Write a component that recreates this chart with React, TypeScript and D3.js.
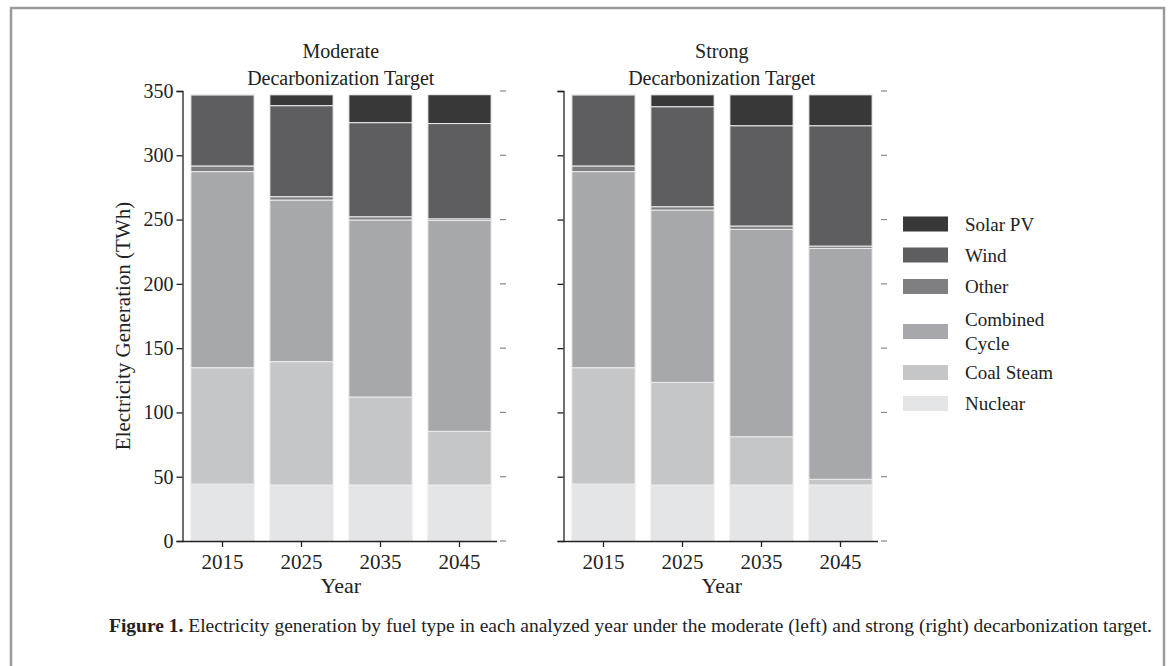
import React, { useEffect, useRef } from "react";
import * as d3 from "d3";

// Categories and series (TWh)
const years = ["2015", "2025", "2035", "2045"];
const fuels = ["Nuclear", "Coal Steam", "Combined Cycle", "Other", "Wind", "Solar PV"];
const fuelColors = ["#e4e5e7", "#c5c6c8", "#a7a8ab", "#7f7f82", "#5e5e60", "#383838"];

const nuclearModerate = [44.3, 43.6, 43.6, 43.6];
const coalModerate = [90.5, 95.9, 68.4, 41.7];
const combinedModerate = [152.5, 125.7, 137.7, 164.0];
const otherModerate = [4.4, 2.6, 2.5, 1.3];
const windModerate = [55.3, 70.8, 73.2, 74.1];
const solarModerate = [0.4, 8.4, 21.6, 22.4];

const nuclearStrong = [44.3, 43.6, 43.6, 43.6];
const coalStrong = [90.5, 79.8, 37.5, 4.4];
const combinedStrong = [152.5, 134.0, 161.3, 179.6];
const otherStrong = [4.4, 2.6, 2.6, 1.8];
const windStrong = [55.3, 77.8, 78.0, 93.6];
const solarStrong = [0.4, 9.2, 24.0, 24.0];

const yTicks = [0, 50, 100, 150, 200, 250, 300, 350];
const panelTitles = [["Moderate", "Decarbonization Target"], ["Strong", "Decarbonization Target"]];

const FONT = "'Liberation Serif', 'Times New Roman', serif";

function buildRows(series: number[][]) {
  return years.map((year, i) => {
    const row: Record<string, any> = { year };
    fuels.forEach((f, k) => (row[f] = series[k][i]));
    return row;
  });
}

export default function App() {
  const ref = useRef<SVGSVGElement | null>(null);

  useEffect(() => {
    const svg = d3.select(ref.current);
    svg.selectAll("*").remove();

    // frame
    svg.append("rect")
      .attr("x", 11).attr("y", 8).attr("width", 1153).attr("height", 720)
      .attr("fill", "none").attr("stroke", "#9a9a9c").attr("stroke-width", 2.5);

    const y = d3.scaleLinear().domain([0, 350]).range([541, 91]);

    const panels = [
      { x0: 182.5, x1: 499, series: [nuclearModerate, coalModerate, combinedModerate, otherModerate, windModerate, solarModerate], labels: true },
      { x0: 563.5, x1: 880, series: [nuclearStrong, coalStrong, combinedStrong, otherStrong, windStrong, solarStrong], labels: false },
    ];

    const stack = d3.stack<any>().keys(fuels);

    panels.forEach((p, pi) => {
      const g = svg.append("g");
      const x = d3.scaleBand().domain(years).range([p.x0 + 0.5, p.x1]).paddingInner(0.2).paddingOuter(0.1);
      const layers = stack(buildRows(p.series));

      layers.forEach((layer, k) => {
        g.append("g")
          .selectAll("rect")
          .data(layer)
          .join("rect")
          .attr("x", (d: any) => x(d.data.year)!)
          .attr("width", x.bandwidth())
          .attr("y", (d: any) => y(d[1]))
          .attr("height", (d: any) => Math.max(0, y(d[0]) - y(d[1])))
          .attr("fill", fuelColors[k])
          .attr("stroke", "#ececee")
          .attr("stroke-width", 1);
      });

      // left axis
      const yAxis = g.append("g")
        .attr("transform", `translate(${p.x0},0)`)
        .call(d3.axisLeft(y).tickValues(yTicks).tickSize(6).tickSizeOuter(6).tickPadding(3).tickFormat(p.labels ? (d3.format("d") as any) : () => ""));
      yAxis.select(".domain").attr("stroke", "#222").attr("stroke-width", 1.3);
      yAxis.selectAll(".tick line").attr("stroke", "#222").attr("stroke-width", 1.3);
      yAxis.selectAll("text").attr("font-family", FONT).attr("font-size", 20).attr("fill", "#222");

      // right-hand tick marks
      g.append("g")
        .selectAll("line")
        .data(yTicks)
        .join("line")
        .attr("x1", p.x1 + 1).attr("x2", p.x1 + 7)
        .attr("y1", (d) => y(d)).attr("y2", (d) => y(d))
        .attr("stroke", "#888").attr("stroke-width", 1.2);

      // bottom axis
      const xAxis = g.append("g")
        .attr("transform", `translate(0,${y(0)})`)
        .call(d3.axisBottom(x).tickSize(6).tickSizeOuter(0).tickPadding(4));
      xAxis.select(".domain").attr("stroke", "#222").attr("stroke-width", 1.3)
        .attr("d", `M${p.x0},0.5H${p.x1 - 2}`);
      xAxis.selectAll(".tick line").attr("stroke", "#222").attr("stroke-width", 1.3);
      xAxis.selectAll("text").attr("font-family", FONT).attr("font-size", 21).attr("fill", "#222").attr("dy", "0.85em");

      const cx = (p.x0 + p.x1) / 2;
      g.append("text").attr("x", cx).attr("y", 593).attr("text-anchor", "middle")
        .attr("font-family", FONT).attr("font-size", 22).attr("fill", "#222").text("Year");

      panelTitles[pi].forEach((t, li) => {
        g.append("text").attr("x", cx).attr("y", 58 + li * 27).attr("text-anchor", "middle")
          .attr("font-family", FONT).attr("font-size", 20).attr("fill", "#222").text(t);
      });
    });

    // y axis title
    svg.append("text")
      .attr("transform", `translate(130,326) rotate(-90)`)
      .attr("text-anchor", "middle")
      .attr("font-family", FONT).attr("font-size", 21).attr("fill", "#222")
      .text("Electricity Generation (TWh)");

    // legend (top to bottom: Solar PV ... Nuclear)
    const legendItems = fuels.map((f, k) => ({ f, c: fuelColors[k] })).reverse();
    const legendY = [224, 255, 286.5, 331.5, 372.5, 403.5];
    const lg = svg.append("g");
    legendItems.forEach((it, i) => {
      lg.append("rect").attr("x", 903).attr("y", legendY[i] - 7.5).attr("width", 45).attr("height", 15).attr("fill", it.c);
      const lines = it.f === "Combined Cycle" ? ["Combined", "Cycle"] : [it.f];
      lines.forEach((ln, j) => {
        lg.append("text")
          .attr("x", 965)
          .attr("y", legendY[i] + (lines.length > 1 ? (j === 0 ? -12 : 12) : 0))
          .attr("dy", "0.35em")
          .attr("font-family", FONT).attr("font-size", 19).attr("fill", "#222").text(ln);
      });
    });

    // caption
    const cap = svg.append("text").attr("x", 109).attr("y", 632)
      .attr("font-family", FONT).attr("font-size", 18.5).attr("fill", "#222")
      .attr("textLength", 1043).attr("lengthAdjust", "spacingAndGlyphs");
    cap.append("tspan").attr("font-weight", "bold").text("Figure 1.");
    cap.append("tspan").text(" Electricity generation by fuel type in each analyzed year under the moderate (left) and strong (right) decarbonization target.");
  }, []);

  return (
    <div style={{ position: "fixed", left: 0, top: 0, width: 1170, height: 666, background: "#fff" }}>
      <svg ref={ref} width={1170} height={666} />
    </div>
  );
}
